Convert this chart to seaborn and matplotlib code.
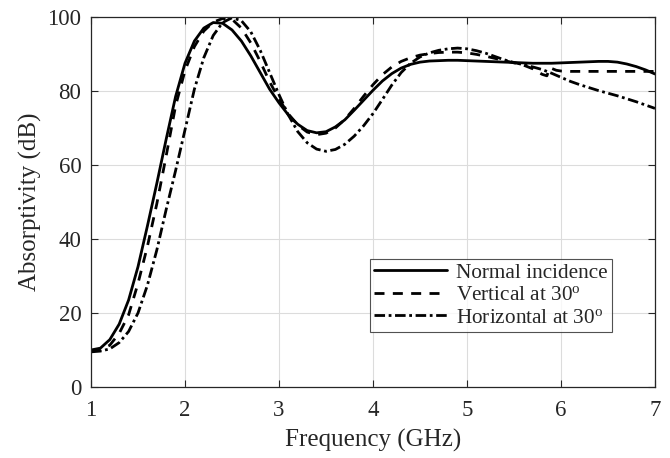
import matplotlib
matplotlib.use("Agg")
import matplotlib.pyplot as plt
import seaborn as sns
import numpy as np
import pandas as pd

# ---------------- data ----------------
freq = [1.0, 1.1, 1.2, 1.3, 1.4, 1.5, 1.6, 1.7, 1.8, 1.9,
        2.0, 2.1, 2.2, 2.3, 2.4, 2.5, 2.6, 2.7, 2.8, 2.9,
        3.0, 3.1, 3.2, 3.3, 3.4, 3.5, 3.6, 3.7, 3.8, 3.9,
        4.0, 4.1, 4.2, 4.3, 4.4, 4.5, 4.6, 4.7, 4.8, 4.9,
        5.0, 5.1, 5.2, 5.3, 5.4, 5.5, 5.6, 5.7, 5.8, 5.9,
        6.0, 6.1, 6.2, 6.3, 6.4, 6.5, 6.6, 6.7, 6.8, 6.9, 7.0]

normal = [10.0, 10.5, 12.8, 17.0, 23.5, 32.5, 43.5, 55.0, 67.0, 78.5,
          87.5, 93.5, 97.0, 98.5, 98.3, 96.5, 93.5, 89.5, 85.0, 80.5,
          76.8, 73.5, 71.0, 69.3, 68.7, 69.0, 70.3, 72.2, 74.8, 77.5,
          80.2, 82.7, 84.7, 86.2, 87.2, 87.8, 88.1, 88.2, 88.3, 88.3,
          88.2, 88.1, 88.0, 87.9, 87.8, 87.7, 87.6, 87.5, 87.5, 87.5,
          87.6, 87.7, 87.8, 87.9, 88.0, 88.0, 87.8, 87.3, 86.6, 85.7, 84.6]

freq_v = [1.0, 1.1, 1.2, 1.3, 1.4, 1.5, 1.6, 1.7, 1.8, 1.9,
          2.0, 2.1, 2.2, 2.3, 2.4, 2.5, 2.6, 2.7, 2.8, 2.9,
          3.0, 3.1, 3.2, 3.3, 3.4, 3.5, 3.6, 3.7, 3.8, 3.9,
          4.0, 4.1, 4.2, 4.3, 4.4, 4.5, 4.6, 4.7, 4.8, 4.9,
          5.0, 5.1, 5.2, 5.3, 5.4, 5.5, 5.6, 5.7, 5.8, 5.85, 5.88, 5.95,
          6.0, 6.1, 6.2, 6.3, 6.4, 6.5, 6.6, 6.7, 6.8, 6.9, 7.0]
vertical = [9.8, 10.0, 11.3, 14.5, 19.5, 28.0, 38.0, 49.5, 62.5, 76.0,
            85.5, 92.0, 96.2, 98.6, 99.6, 99.4, 97.0, 93.0, 88.0, 82.5,
            77.8, 73.8, 70.8, 68.9, 68.2, 68.6, 70.0, 72.3, 75.3, 78.6,
            81.7, 84.4, 86.5, 88.0, 89.0, 89.7, 90.1, 90.4, 90.5, 90.5,
            90.3, 89.9, 89.4, 88.8, 88.2, 87.6, 87.0, 86.0, 84.5, 84.1, 86.3, 85.6,
            85.4, 85.3, 85.3, 85.3, 85.3, 85.3, 85.3, 85.3, 85.3, 85.3, 85.3]

horizontal = [9.5, 9.7, 10.3, 12.0, 15.0, 20.0, 27.5, 37.0, 48.0, 58.5,
              69.5, 80.5, 89.0, 95.0, 98.5, 99.8, 99.0, 96.0, 91.0, 85.0,
              79.0, 73.5, 69.0, 66.0, 64.3, 63.7, 64.2, 65.6, 67.8, 70.6,
              73.9, 77.7, 81.6, 85.0, 87.5, 89.2, 90.3, 91.0, 91.4, 91.6,
              91.4, 90.9, 90.2, 89.3, 88.4, 87.7, 87.1, 86.5, 85.8, 84.8,
              83.7, 82.6, 81.7, 80.9, 80.1, 79.4, 78.7, 77.9, 77.1, 76.2, 75.3]

labels = ["Normal incidence", r"Vertical at 30$^{\mathrm{o}}$", r"Horizontal at 30$^{\mathrm{o}}$"]
xticks = [1, 2, 3, 4, 5, 6, 7]
yticks = [0, 20, 40, 60, 80, 100]

# ---------------- style ----------------
sns.set_style("ticks")
plt.rcParams["font.family"] = ["Liberation Serif", "DejaVu Serif"]
plt.rcParams["mathtext.fontset"] = "custom"
plt.rcParams["mathtext.rm"] = "Liberation Serif"
plt.rcParams["mathtext.it"] = "Liberation Serif:italic"

fig, ax = plt.subplots(figsize=(6.7, 4.58), dpi=100)
fig.subplots_adjust(left=91/670, right=655/670, top=1-17/458, bottom=1-387/458)

series = [
    (freq, normal, labels[0], "-"),
    (freq_v, vertical, labels[1], (0, (3.6, 3.0))),
    (freq, horizontal, labels[2], (0, (3.8, 1.3, 1.0, 1.3))),
]
for xs, ys, lab, ls in series:
    df = pd.DataFrame({"f": xs, "a": ys})
    sns.lineplot(data=df, x="f", y="a", ax=ax, color="black", lw=2.0,
                 linestyle=ls, label=lab, sort=False)

ax.set_xlim(1, 7)
ax.set_ylim(0, 100)
ax.set_xticks(xticks)
ax.set_yticks(yticks)
ax.grid(True, color="#dcdcdc", lw=0.8)
ax.set_axisbelow(True)
for s in ax.spines.values():
    s.set_visible(True)
    s.set_color("#262626")
    s.set_linewidth(0.9)
ax.tick_params(direction="in", top=True, right=True, length=5, width=0.8,
               labelsize=16.5, colors="#262626", labelcolor="#262626")
ax.tick_params(axis="x", pad=9)
ax.tick_params(axis="y", pad=7)
ax.set_xlabel("Frequency (GHz)", fontsize=18, color="#262626", labelpad=6)
ax.set_ylabel("Absorptivity (dB)", fontsize=18, color="#262626", labelpad=4)

leg = ax.legend(loc="lower right", bbox_to_anchor=(612/670, 1-332/458),
                bbox_transform=fig.transFigure, fontsize=15.3, frameon=True,
                fancybox=False, edgecolor="#262626", handlelength=3.4,
                handletextpad=0.45, borderpad=0.2, labelspacing=0.12,
                borderaxespad=0)
leg.get_frame().set_linewidth(0.8)

fig.savefig("out.png", dpi=100)
